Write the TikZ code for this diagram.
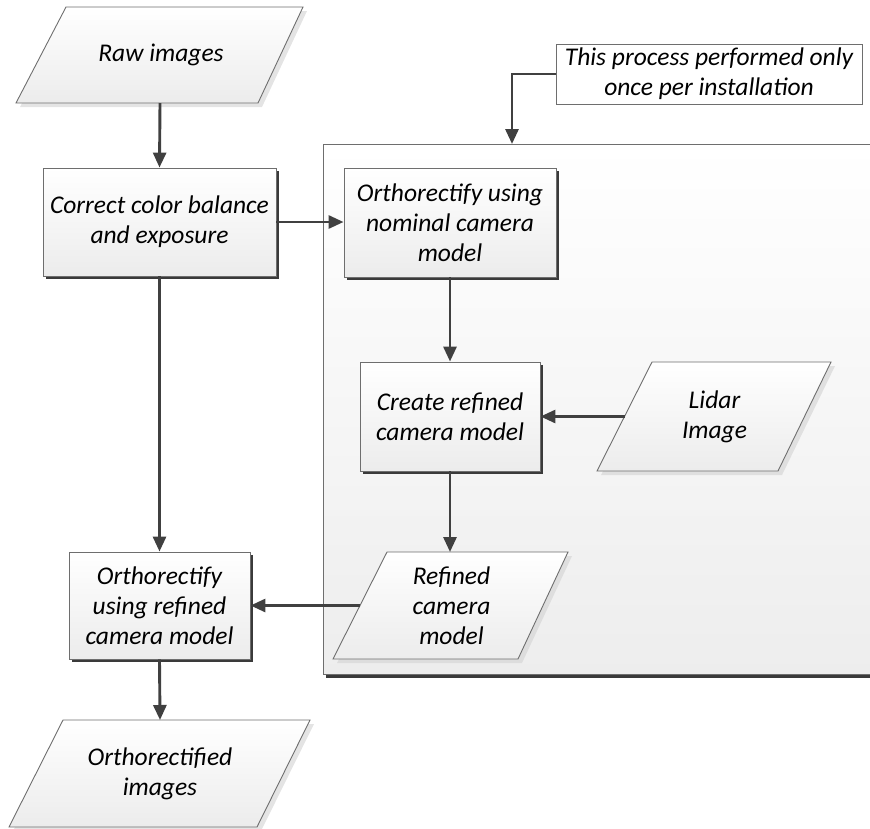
\documentclass[tikz,border=0pt]{standalone}
\usepackage{fontspec}
\setmainfont{Carlito}
\usetikzlibrary{arrows.meta,shadows}
\definecolor{arrowgray}{HTML}{404040}
\definecolor{edgegray}{HTML}{6E6E6E}
\definecolor{shadowdark}{HTML}{3A3A3A}
\begin{document}
\begin{tikzpicture}[x=1pt,y=-1pt,
  txt/.style={font=\fontsize{25.5}{30}\selectfont\itshape, align=center, text=black},
  procbox/.style={txt, draw=edgegray, line width=0.9pt, rectangle, inner sep=2pt,
     top color=white, bottom color=gray!15,
     drop shadow={shadow xshift=3pt, shadow yshift=-3pt, fill=shadowdark, opacity=1}},
  iobox/.style={draw=edgegray, line width=0.9pt, top color=white, bottom color=gray!15},
  ioshadow/.style={fill=gray!35, opacity=0.6},
  notebox/.style={txt, draw=edgegray, line width=0.9pt, fill=white, rectangle,
     minimum width=306pt, minimum height=60pt, inner sep=2pt},
  arr/.style={draw=arrowgray, line width=2.9pt, -{Triangle[length=15pt,width=13pt]}}
]
\useasboundingbox (0,0) rectangle (870,828);

% container
\fill[shadowdark] (326,147) rectangle (880,678);
\shade[top color=white, bottom color=gray!14, draw=edgegray, line width=0.9pt]
  (323,144) rectangle (880,674);
\coordinate (ctop) at (512,144);

% note
\node[notebox] (note) at (709,74) {This process performed only\\once per installation};

% Raw images
\fill[ioshadow] (70,11) -- (307,11) -- (262,107) -- (20,107) -- cycle;
\path[iobox] (66,7) -- (303,7) -- (258,103) -- (16,103) -- cycle;
\node[txt] (raw) at (161,55) {Raw images};
\coordinate (rawS) at (160,103);

% Correct colour box
\node[procbox, minimum width=233pt, minimum height=108pt] (correct) at (159.5,222)
  {Correct color balance\\and exposure};

% Nominal box
\node[procbox, minimum width=212pt, minimum height=109pt] (nominal) at (450,222.5)
  {Orthorectify using\\nominal camera\\model};

% Create refined
\node[procbox, minimum width=180pt, minimum height=109pt] (create) at (450,416.5)
  {Create refined\\camera model};

% Lidar image
\fill[ioshadow] (656,366) -- (835,366) -- (782,475) -- (601,475) -- cycle;
\path[iobox] (652,362) -- (831,362) -- (778,471) -- (597,471) -- cycle;
\node[txt] (lidar) at (714.5,416.5) {Lidar\\Image};
\coordinate (lidarW) at (624.5,416.5);

% Refined camera model
\fill[ioshadow] (391,556) -- (572,556) -- (522,663) -- (337,663) -- cycle;
\path[iobox] (387,552) -- (568,552) -- (518,659) -- (333,659) -- cycle;
\node[txt] (refined) at (451.5,605.5) {Refined\\camera\\model};
\coordinate (refinedN) at (450,552);
\coordinate (refinedW) at (360,605.5);

% Orthorectify refined box
\node[procbox, minimum width=181pt, minimum height=107pt] (ortho) at (159.5,605.5)
  {Orthorectify\\using refined\\camera model};

% Orthorectified images
\fill[ioshadow] (67,724) -- (314,724) -- (261,831) -- (13,831) -- cycle;
\path[iobox] (63,720) -- (310,720) -- (257,827) -- (9,827) -- cycle;
\node[txt] (orthoimg) at (160,773.5) {Orthorectified\\images};
\coordinate (orthoimgN) at (160,720);

% connectors
\draw[arr] (rawS) -- (correct.north);
\draw[arr] (correct.east) -- (nominal.west |- correct.east);
\draw[arr] (note.west) -| (ctop);
\draw[arr] (nominal.south) -- (create.north);
\draw[arr] (lidarW) -- (create.east |- lidarW);
\draw[arr] (create.south) -- (refinedN);
\draw[arr] (refinedW) -- (ortho.east |- refinedW);
\draw[arr] (correct.south) -- (ortho.north);
\draw[arr] (ortho.south) -- (orthoimgN);
\end{tikzpicture}
\end{document}
